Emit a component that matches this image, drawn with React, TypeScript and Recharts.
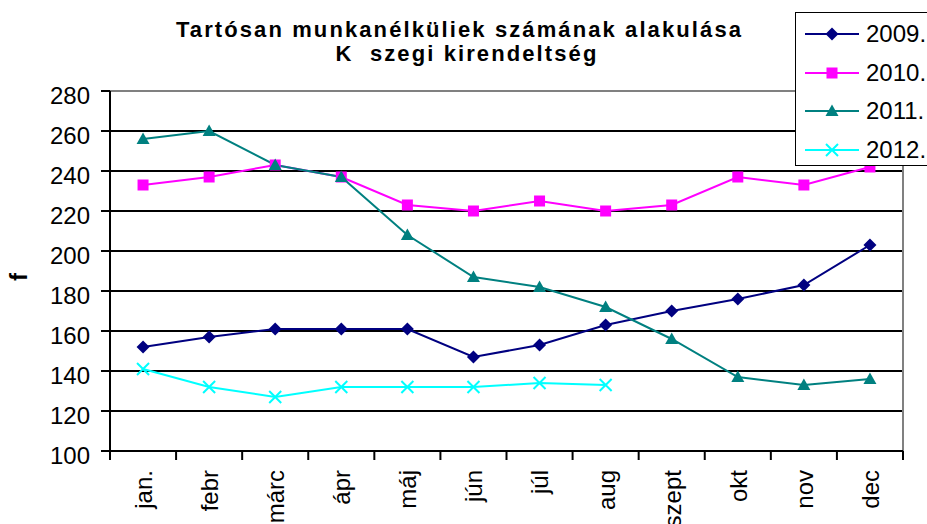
import React from "react";
import {
  LineChart,
  Line,
  XAxis,
  YAxis,
  CartesianGrid,
  Legend,
  ReferenceArea,
} from "recharts";

// Months on the category axis
const months = ["jan.", "febr", "márc", "ápr", "máj", "jún", "júl", "aug", "szept", "okt", "nov", "dec"];

// Values
const y2009 = [152, 157, 161, 161, 161, 147, 153, 163, 170, 176, 183, 203];
const y2010 = [233, 237, 243, 237, 223, 220, 225, 220, 223, 237, 233, 242];
const y2011 = [256, 260, 243, 237, 208, 187, 182, 172, 156, 137, 133, 136];
const y2012 = [141, 132, 127, 132, 132, 132, 134, 133, null, null, null, null];

const yTicks = [100, 120, 140, 160, 180, 200, 220, 240, 260, 280];
const gridValues = [120, 140, 160, 180, 200, 220, 240, 260];

const data = months.map((m, i) => ({
  month: m,
  "2009.": y2009[i],
  "2010.": y2010[i],
  "2011.": y2011[i],
  "2012.": y2012[i],
}));

const FONT = "'Liberation Sans', Arial, sans-serif";

const series = [
  { key: "2009.", color: "#000080", shape: "diamond" },
  { key: "2010.", color: "#FF00FF", shape: "square" },
  { key: "2011.", color: "#008080", shape: "triangle" },
  { key: "2012.", color: "#00FFFF", shape: "cross" },
];

const markerShape = (shape: string, cx: number, cy: number, color: string, key?: string) => {
  if (shape === "diamond") {
    return <path key={key} d={`M${cx},${cy - 6.5}L${cx + 6.5},${cy}L${cx},${cy + 6.5}L${cx - 6.5},${cy}Z`} fill={color} />;
  }
  if (shape === "square") {
    return <rect key={key} x={cx - 5.5} y={cy - 5.5} width={11} height={11} fill={color} />;
  }
  if (shape === "triangle") {
    return <path key={key} d={`M${cx},${cy - 6.5}L${cx + 6.5},${cy + 5}L${cx - 6.5},${cy + 5}Z`} fill={color} />;
  }
  return (
    <path
      key={key}
      d={`M${cx - 6},${cy - 6}L${cx + 6},${cy + 6}M${cx + 6},${cy - 6}L${cx - 6},${cy + 6}`}
      stroke={color}
      strokeWidth={2}
      fill="none"
    />
  );
};

const makeDot = (shape: string, color: string) => (props: any) => {
  const { cx, cy, index, value } = props;
  if (value == null || cy == null || isNaN(cy)) return <g key={`e-${shape}-${index}`} />;
  return markerShape(shape, cx, cy, color, `${shape}-${index}`);
};

// category label + boundary tick marks (Excel style)
const MonthTick = (props: any) => {
  const { x, y, payload, index } = props;
  const half = payload && payload.offset ? payload.offset : 33;
  return (
    <g>
      <line x1={x - half} x2={x - half} y1={y} y2={y + 9} stroke="#000" strokeWidth={2} />
      {index === months.length - 1 && (
        <line x1={x + half} x2={x + half} y1={y} y2={y + 9} stroke="#000" strokeWidth={2} />
      )}
      <text
        x={x}
        y={y + 19}
        dy="0.37em"
        transform={`rotate(-90, ${x}, ${y + 19})`}
        textAnchor="end"
        fontSize={24}
        fontFamily={FONT}
        fill="#000"
      >
        {payload.value}
      </text>
    </g>
  );
};

const LegendBox = () => (
  <div
    style={{
      width: 170,
      height: 154,
      border: "1.5px solid #000",
      background: "#fff",
      boxSizing: "border-box",
      position: "relative",
      fontFamily: FONT,
    }}
  >
    {series.map((s, i) => (
      <div
        key={s.key}
        style={{
          position: "absolute",
          left: 0,
          top: 21 + i * 38.7 - 14,
          height: 28,
          display: "flex",
          alignItems: "center",
        }}
      >
        <svg width={70} height={28} style={{ display: "block" }}>
          <line x1={9} x2={63} y1={14} y2={14} stroke={s.color} strokeWidth={2} />
          {markerShape(s.shape, 36, 14, s.color)}
        </svg>
        <span style={{ fontSize: 24, color: "#000", whiteSpace: "nowrap" }}>{s.key}</span>
      </div>
    ))}
  </div>
);

const titleStyle: React.CSSProperties = {
  position: "absolute",
  left: 0,
  textAlign: "center",
  fontSize: 22,
  fontWeight: "bold",
  letterSpacing: 2.1,
  whiteSpace: "pre",
  lineHeight: "26px",
};

const App = () => {
  return (
    <div
      style={{
        position: "absolute",
        left: 0,
        top: 0,
        width: 927,
        height: 524,
        overflow: "hidden",
        background: "#fff",
        fontFamily: FONT,
      }}
    >
      {/* Title */}
      <div style={{ ...titleStyle, width: 919, top: 17 }}>
        Tartósan munkanélküliek számának alakulása
      </div>
      <div style={{ ...titleStyle, width: 934, top: 41 }}>K  szegi kirendeltség</div>

      {/* Y axis title */}
      <div
        style={{
          position: "absolute",
          left: 19,
          top: 277,
          transform: "translate(-50%, -50%) rotate(-90deg)",
          fontSize: 24,
          fontWeight: "bold",
          lineHeight: "24px",
        }}
      >
        f
      </div>

      <LineChart
        width={927}
        height={524}
        data={data}
        margin={{ top: 91, right: 24, left: 0, bottom: 0 }}
        style={{ position: "absolute", left: 0, top: 0 }}
      >
        <ReferenceArea
          x1="jan."
          x2="dec"
          y1={100}
          y2={280}
          fill="none"
          stroke="#808080"
          strokeWidth={2}
          ifOverflow="visible"
        />
        <CartesianGrid
          vertical={false}
          horizontalValues={gridValues}
          stroke="#000"
          strokeWidth={2}
        />
        <XAxis
          dataKey="month"
          scale="band"
          height={73}
          interval={0}
          tickSize={0}
          tickMargin={0}
          tickLine={false}
          axisLine={{ stroke: "#000", strokeWidth: 2 }}
          tick={<MonthTick />}
        />
        <YAxis
          width={110}
          domain={[100, 280]}
          ticks={yTicks}
          interval={0}
          tickSize={9}
          tickMargin={11}
          axisLine={{ stroke: "#000", strokeWidth: 2 }}
          tickLine={{ stroke: "#000", strokeWidth: 2 }}
          tick={{ fill: "#000", fontSize: 24, fontFamily: FONT, dy: 4 }}
        />
        {series.map((s) => (
          <Line
            key={s.key}
            type="linear"
            dataKey={s.key}
            name={s.key}
            stroke={s.color}
            strokeWidth={2}
            dot={makeDot(s.shape, s.color)}
            activeDot={false}
            isAnimationActive={false}
          />
        ))}
        <Legend
          layout="vertical"
          align="center"
          verticalAlign="middle"
          wrapperStyle={{ left: 795, top: 12, width: 170, height: 154 }}
          content={<LegendBox />}
        />
      </LineChart>
    </div>
  );
};

export default App;
